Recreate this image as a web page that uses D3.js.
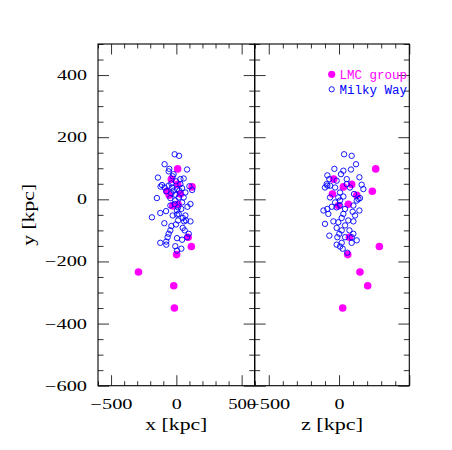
<!DOCTYPE html>
<html><head><meta charset="utf-8">
<script src="https://cdn.jsdelivr.net/npm/d3@7"></script>
<style>body{margin:0;background:#fff}</style>
</head><body>
<script>
// LMC group members (x, y, z) in kpc
const lmcX = [10, -38, 10, 120, -72, 31, -54, 13, -28, 90, 115, 2, -290, -20, -15];
const lmcY = [98, 65, 48, 40, 26, 17, 13, -16, -21, -122, -152, -178, -234, -278, -350];
const lmcZ = [261, -38, 90, 31, 237, -47, 126, 66, -5, 74, 287, 62, 149, 204, 26];

// Milky Way satellites in the x-y plane
const mwX = [-13,21,-90,-54,-59,82,-21,-28,-141,31,56,-3,-38,-110,-121,-90,-59,100,121,44,5,-77,-38,-8,23,56,-149,-46,-8,44,108,85,13,5,18,-123,-79,-187,69,49,5,59,108,74,-92,-38,-3,-46,-59,-67,64,95,82,5,44,-123,-77,-77,-8,38,5,-33,-21,18,-13,13,-46,31,69,49,-28,38];
const mwYx = [145,140,113,98,90,96,81,74,70,65,67,58,51,46,41,38,44,42,30,36,33,26,19,15,28,6,4,4,-4,-10,-15,-24,-26,-36,-47,-44,-38,-58,-52,-60,-49,-71,-71,-68,-77,-86,-81,-100,-111,-122,-100,-111,-122,-125,-130,-140,-136,-146,-151,-159,-165,38,28,6,-15,-68,-20,49,22,-92,-52,-31];

// Milky Way satellites in the z-y plane
const mwZ = [36,90,121,-33,31,85,14,-83,55,145,-69,-17,-88,-100,-64,-28,161,173,78,107,7,-5,149,31,126,-28,7,-52,-111,-83,-76,97,145,114,19,-40,-5,102,-100,43,19,2,74,102,90,-69,-12,126,90,19,-17,7,26,59,-17,7,43,102,-83,55,138,31,66,-17,43,-64];
const mwYz = [145,140,113,98,92,96,81,77,65,71,65,60,49,38,44,38,47,33,38,17,22,6,4,9,-4,-10,-4,-24,-36,-31,-47,-40,-36,-52,-60,-71,-74,-71,-79,-84,-100,-111,-100,-111,-122,-117,-122,-132,-140,-140,-146,-152,-159,-172,-26,-20,-31,-20,44,49,1,-47,-68,-92,-122,6];

const yMajor = [-600, -400, -200, 0, 200, 400];
const xMajorL = [-500, 0, 500];
const xMajorR = [-500, 0];
const legendLabels = ["LMC group", "Milky Way"];

const W = 452, H = 450;
const pTop = 44, pBottom = 385.7, pLeft = 98, pMid = 254.7, pRight = 409.3;
const magenta = "#ff00ff", blue = "#0000ff";
const fontSerif = "'Liberation Serif', 'DejaVu Serif', serif";
const fontMono = "'Liberation Mono', 'DejaVu Sans Mono', monospace";
const fmt = d => (d < 0 ? "\u2212" + Math.abs(d) : String(d));

const svg = d3.select("body").append("svg").attr("width", W).attr("height", H)
  .style("background", "#fff");

const y = d3.scaleLinear().domain([-600, 500]).range([pBottom, pTop]);
const xL = d3.scaleLinear().domain([-600, 600]).range([pLeft, pMid]);
const xR = d3.scaleLinear().domain([-600, 500]).range([pMid, pRight]);

function frameAxes(xs, x0, x1) {
  const g = svg.append("g");
  const yMin = d3.range(-600, 501, 50).filter(v => v % 200 !== 0);
  const yMaj = d3.range(-600, 501, 200);
  const xMin = d3.range(-600, 601, 100).filter(v => v % 500 !== 0 && v >= xs.domain()[0] && v <= xs.domain()[1]);
  const xMaj = [-500, 0, 500].filter(v => v <= xs.domain()[1]);
  const mk = (axisFn, scale, vals, size, tx, ty) => {
    const a = g.append("g").attr("transform", `translate(${tx},${ty})`)
      .call(axisFn(scale).tickValues(vals).tickSize(size).tickFormat(""));
    a.select(".domain").remove();
    a.selectAll("line").attr("stroke", "#333").attr("stroke-width", 1);
  };
  mk(d3.axisLeft, y, yMin, -5.5, x0, 0);
  mk(d3.axisLeft, y, yMaj, -11, x0, 0);
  mk(d3.axisRight, y, yMin, -5.5, x1, 0);
  mk(d3.axisRight, y, yMaj, -11, x1, 0);
  mk(d3.axisBottom, xs, xMin, -4.5, 0, pBottom);
  mk(d3.axisBottom, xs, xMaj, -10.5, 0, pBottom);
  mk(d3.axisTop, xs, xMin, -4.5, 0, pTop);
  mk(d3.axisTop, xs, xMaj, -10.5, 0, pTop);
  g.append("rect").attr("x", x0).attr("y", pTop).attr("width", x1 - x0).attr("height", pBottom - pTop)
    .attr("fill", "none").attr("stroke", "#000").attr("stroke-width", 1.1);
}

function tickLen(s) { return s.length * 10 + (s.startsWith("\u2212") ? 2 : 0); }

function drawPanel(xs, xv, yv, lx, ly, xLabels, title) {
  const g = svg.append("g");
  g.selectAll("circle.lmc").data(d3.range(lx.length)).join("circle")
    .attr("class", "lmc").attr("cx", i => xs(lx[i])).attr("cy", i => y(ly[i]))
    .attr("r", 3.8).attr("fill", magenta);
  g.selectAll("circle.mw").data(d3.range(xv.length)).join("circle")
    .attr("class", "mw").attr("cx", i => xs(xv[i])).attr("cy", i => y(yv[i]))
    .attr("r", 2.7).attr("fill", "none").attr("stroke", blue).attr("stroke-width", 0.9);
  const ax = svg.append("g").attr("transform", `translate(0,${pBottom})`)
    .call(d3.axisBottom(xs).tickValues(xLabels).tickSize(0).tickPadding(18).tickFormat(fmt));
  ax.select(".domain").remove();
  ax.selectAll("text").attr("font-family", fontSerif).attr("font-size", 14).attr("fill", "#000")
    .attr("dy", 0).attr("y", 23)
    .attr("textLength", d => tickLen(fmt(d)) - (d === 500 ? 2 : 0)).attr("lengthAdjust", "spacingAndGlyphs");
  svg.append("text").attr("x", (xs.range()[0] + xs.range()[1]) / 2).attr("y", 430)
    .attr("text-anchor", "middle").attr("font-family", fontSerif).attr("font-size", 16)
    .attr("textLength", 62).attr("lengthAdjust", "spacingAndGlyphs").text(title);
}

drawPanel(xL, mwX, mwYx, lmcX, lmcY, xMajorL, "x [kpc]");
drawPanel(xR, mwZ, mwYz, lmcZ, lmcY, xMajorR, "z [kpc]");
frameAxes(xL, pLeft, pMid);
frameAxes(xR, pMid, pRight);

const ay = svg.append("g").attr("transform", `translate(${pLeft},0)`)
  .call(d3.axisLeft(y).tickValues(yMajor).tickSize(0).tickPadding(11).tickFormat(fmt));
ay.select(".domain").remove();
ay.selectAll("text").attr("font-family", fontSerif).attr("font-size", 14).attr("fill", "#000")
  .attr("textLength", d => tickLen(fmt(d))).attr("lengthAdjust", "spacingAndGlyphs");

svg.append("text").attr("transform", `translate(34,${(pTop + pBottom) / 2}) rotate(-90)`)
  .attr("text-anchor", "middle").attr("font-family", fontSerif).attr("font-size", 16)
  .attr("textLength", 62).attr("lengthAdjust", "spacingAndGlyphs").text("y [kpc]");

const leg = svg.append("g");
leg.append("circle").attr("cx", 331.7).attr("cy", 74.3).attr("r", 3.6).attr("fill", magenta);
leg.append("text").attr("x", 339.5).attr("y", 78.5).attr("font-family", fontMono).attr("font-size", 12.5)
  .attr("fill", magenta).text(legendLabels[0]);
leg.append("circle").attr("cx", 331.7).attr("cy", 89.3).attr("r", 2.6).attr("fill", "none")
  .attr("stroke", blue).attr("stroke-width", 0.9);
leg.append("text").attr("x", 339.5).attr("y", 93.5).attr("font-family", fontMono).attr("font-size", 12.5)
  .attr("fill", blue).text(legendLabels[1]);
</script>
</body></html>
